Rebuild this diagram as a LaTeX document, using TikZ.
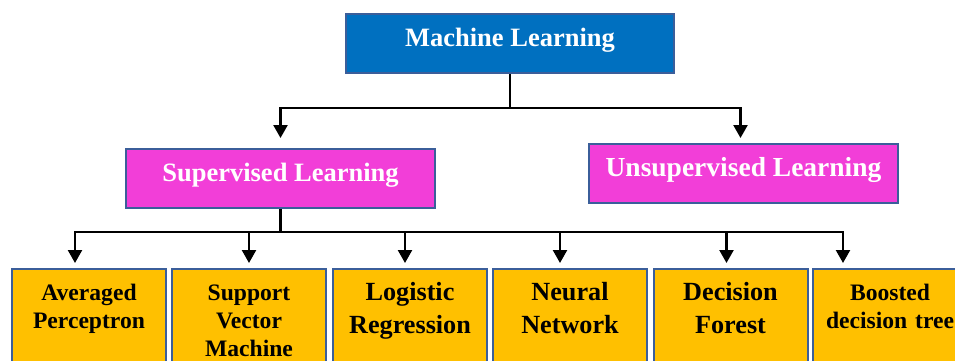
\documentclass[tikz,border=0pt]{standalone}
\usepackage{fontspec}
\setmainfont{Liberation Serif}
\usetikzlibrary{arrows.meta}
\definecolor{mlblue}{HTML}{0070C0}
\definecolor{learnpink}{HTML}{F23ED8}
\definecolor{algogold}{HTML}{FFC000}
\definecolor{edgeblue}{HTML}{3B5E9A}

\begin{document}
\begin{tikzpicture}[x=1pt, y=-1pt,
  box/.style={rectangle, draw=edgeblue, line width=2pt, inner sep=3pt,
    text height=18pt, text depth=12pt, minimum height=59pt},
  topbox/.style={box, fill=mlblue, text=white, minimum width=328pt,
    font=\fontsize{26.5}{30}\selectfont\bfseries},
  learnbox/.style={box, fill=learnpink, text=white, minimum width=309pt},
  algbox/.style={rectangle, draw=edgeblue, line width=2pt, fill=algogold,
    anchor=north, inner sep=3pt, text width=148pt, align=center,
    text height=28pt, text depth=80pt,
    font=\fontsize{23.6}{28}\selectfont\bfseries},
  bigalg/.style={font=\fontsize{26.2}{33}\selectfont\bfseries},
  link/.style={line width=2.3pt},
  arrow/.style={link, -{Triangle[width=14pt,length=13pt]}}
]
\useasboundingbox (0,0) rectangle (955,360);

%%% top level %%%
\node[topbox] (ml) at (510,43.5) {Machine Learning};

%% two kinds of learning
\node[learnbox, font=\fontsize{26.5}{30}\selectfont\bfseries] (sup) at (280.5,178.5) {Supervised Learning};
\node[learnbox, font=\fontsize{27.5}{30}\selectfont\bfseries] (unsup) at (743.5,173.5) {Unsupervised Learning};

%% supervised algorithms
\node[algbox] (alg1) at (89,268) {Averaged\\Perceptron};
\node[algbox] (alg2) at (249,268) {Support\\Vector\\Machine};
\node[algbox, bigalg] (alg3) at (410,268) {Logistic\\Regression};
\node[algbox, bigalg] (alg4) at (570,268) {Neural\\Network};
\node[algbox, bigalg] (alg5) at (730.5,268) {Decision\\Forest};
\node[algbox] (alg6) at (890,268) {Boosted\\decision tree};

%% connectors
\draw[link] (ml.south) -- ++(0,34) coordinate (mlbus);
\draw[arrow, shorten >=10pt] (mlbus) -| (sup.north);
\draw[arrow, shorten >=5pt] (mlbus) -| ([xshift=-3pt]unsup.north);

\draw[link] (sup.south) -- ++(0,23) coordinate (supbus);
\foreach \n/\dx in {1/-14,2/0,3/-5,4/-10,5/-4,6/-47}
  \draw[arrow, shorten >=5pt] (supbus) -| ([xshift=\dx pt]alg\n.north);

\end{tikzpicture}
\end{document}
